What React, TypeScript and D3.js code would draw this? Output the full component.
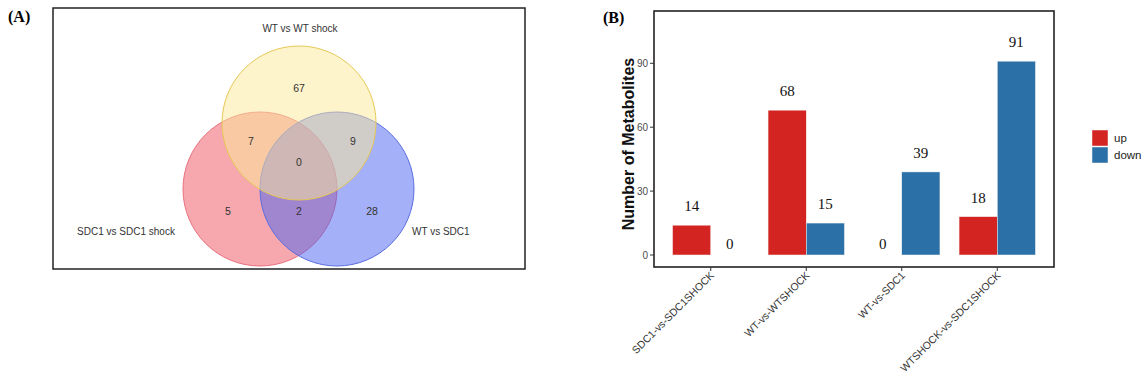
import React from "react";
import * as d3 from "d3";

// panel B data
const comparisons = ["SDC1-vs-SDC1SHOCK", "WT-vs-WTSHOCK", "WT-vs-SDC1", "WTSHOCK-vs-SDC1SHOCK"];
const directions = ["up", "down"];
const upCounts = [14, 68, 0, 18];
const downCounts = [0, 15, 39, 91];
const yTicks = [0, 30, 60, 90];

// panel A data
const vennSets = ["SDC1 vs SDC1 shock", "WT vs WT shock", "WT vs SDC1"];
const vennRegions = ["A", "B", "C", "AB", "BC", "AC", "ABC"];
const vennCounts = [5, 67, 28, 7, 9, 2, 0];

const colors = { up: "#d42422", down: "#2b70a6" };

function Venn() {
  const r = 77;
  // circle centres (left: SDC1, top: WT shock, right: WT vs SDC1)
  const centres = [
    { x: 260, y: 189, fill: "#ef515d", stroke: "#e8707f" },
    { x: 299, y: 123, fill: "#fbe999", stroke: "#e6c855" },
    { x: 337, y: 189, fill: "#4961ef", stroke: "#5b6ee0" },
  ];
  const drawOrder = [0, 2, 1];
  const spots: Record<string, [number, number]> = {
    A: [228, 211], B: [299, 88], C: [372, 211],
    AB: [251, 141], BC: [353, 141], AC: [299, 211], ABC: [299, 162],
  };
  const setLabelPos: [number, number, string][] = [
    [126, 235, "middle"], [300, 32, "middle"], [412, 235, "start"],
  ];
  const font = "Liberation Sans, Arial, sans-serif";
  return (
    <g>
      <text x={8} y={22} fontFamily="Liberation Serif, Times New Roman, serif" fontWeight="bold" fontSize={16}>(A)</text>
      <rect x={53} y={8} width={472} height={261} fill="white" stroke="#222" strokeWidth={1.5} />
      {drawOrder.map((i) => (
        <circle key={i} cx={centres[i].x} cy={centres[i].y} r={r} fill={centres[i].fill} fillOpacity={0.5}
          stroke={centres[i].stroke} strokeWidth={1} />
      ))}
      {vennSets.map((s, i) => (
        <text key={s} x={setLabelPos[i][0]} y={setLabelPos[i][1]} textAnchor={setLabelPos[i][2] as any}
          fontFamily={font} fontSize={10} fill="#333">{s}</text>
      ))}
      {vennRegions.map((k, i) => (
        <text key={k} x={spots[k][0]} y={spots[k][1] + 4} textAnchor="middle" fontFamily={font} fontSize={10.5} fill="#333">
          {vennCounts[i]}
        </text>
      ))}
    </g>
  );
}

function Bars() {
  const left = 654, right = 1054, top = 11, bottom = 267;
  const x0 = d3.scaleBand().domain(comparisons).range([663, 1045]).paddingInner(0.2).paddingOuter(0.1);
  const x1 = d3.scaleBand().domain(directions).range([0, x0.bandwidth()]);
  const y = d3.scaleLinear().domain([0, 90]).range([255, 63.3]);
  const font = "Liberation Sans, Arial, sans-serif";
  const serif = "Liberation Serif, Times New Roman, serif";
  const rows = comparisons.map((c, i) => ({ c, vals: [upCounts[i], downCounts[i]] }));
  return (
    <g>
      <text x={603} y={23} fontFamily={serif} fontWeight="bold" fontSize={16}>(B)</text>
      <rect x={left} y={top} width={right - left} height={bottom - top} fill="white" stroke="#222" strokeWidth={1.6} />
      {rows.map((row) => (
        <g key={row.c} transform={`translate(${x0(row.c)},0)`}>
          {row.vals.map((v, j) => {
            const d = directions[j];
            const bx = x1(d)!;
            return (
              <g key={d}>
                {v > 0 && (
                  <rect x={bx} y={y(v)} width={x1.bandwidth()} height={y(0) - y(v)}
                    fill={(colors as any)[d]} stroke="#f4f4f4" strokeWidth={0.5} />
                )}
                <text x={bx + x1.bandwidth() / 2} y={y(v) - (v > 0 ? 14 : 6)} textAnchor="middle"
                  fontFamily={serif} fontSize={15} fill="#111">{v}</text>
              </g>
            );
          })}
        </g>
      ))}
      {yTicks.map((t) => (
        <g key={t}>
          <line x1={left - 4} x2={left} y1={y(t)} y2={y(t)} stroke="#333" />
          <text x={left - 6} y={y(t) + 3.5} textAnchor="end" fontFamily={font} fontSize={10} fill="#4d4d4d">{t}</text>
        </g>
      ))}
      {comparisons.map((c) => {
        const cx = x0(c)! + x0.bandwidth() / 2;
        return (
          <g key={c}>
            <line x1={cx} x2={cx} y1={bottom} y2={bottom + 4} stroke="#333" />
            <text transform={`translate(${cx + 4},${bottom + 9}) rotate(-45)`} textAnchor="end"
              fontFamily={font} fontSize={10.5} fill="#333">{c}</text>
          </g>
        );
      })}
      <text transform={`translate(634,${(top + bottom) / 2 + 5}) rotate(-90)`} textAnchor="middle"
        fontFamily={font} fontWeight="bold" fontSize={16} fill="#111">Number of Metabolites</text>
      {directions.map((d, i) => (
        <g key={d} transform={`translate(1092,${130 + i * 17})`}>
          <rect width={16} height={16} fill={(colors as any)[d]} stroke="#f4f4f4" strokeWidth={0.5} />
          <text x={22} y={12} fontFamily={font} fontSize={11.5} fill="#222">{d}</text>
        </g>
      ))}
    </g>
  );
}

export default function App() {
  return (
    <svg width={1148} height={384} style={{ position: "fixed", left: 0, top: 0, background: "white" }}>
      <rect width={1148} height={384} fill="white" />
      <Venn />
      <Bars />
    </svg>
  );
}
